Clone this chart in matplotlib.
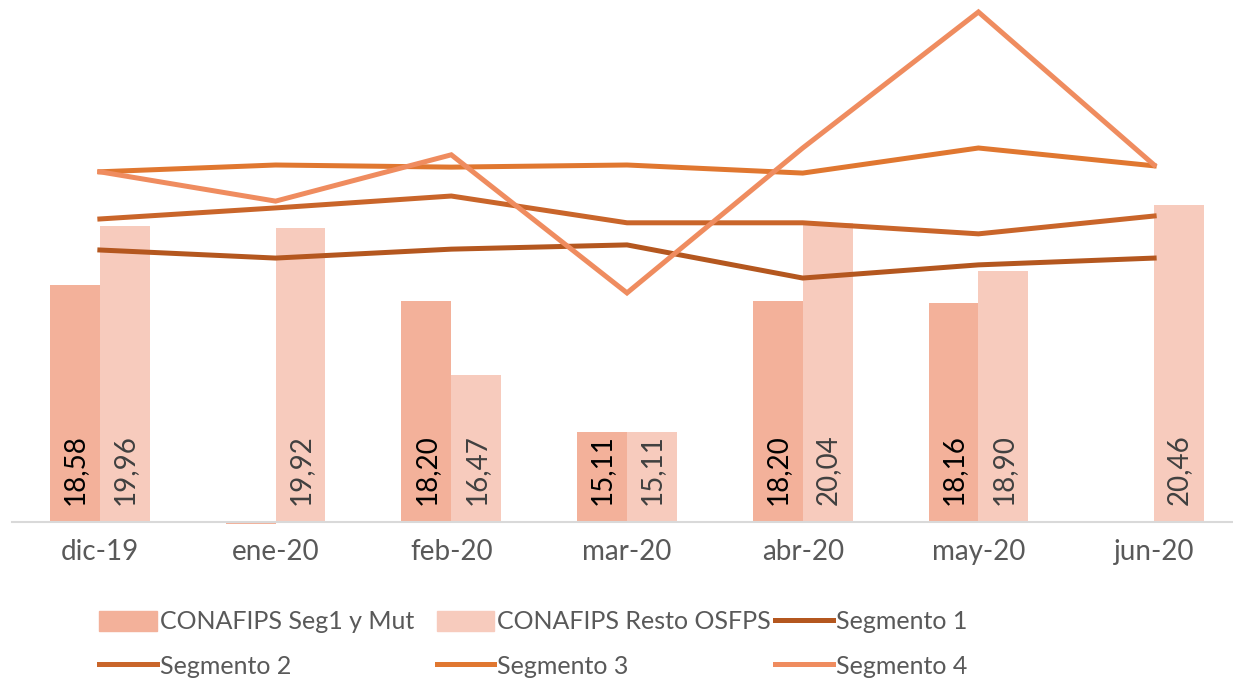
import numpy as np
import matplotlib.pyplot as plt
from matplotlib.lines import Line2D
from matplotlib.patches import Patch

# data
months = ["dic-19", "ene-20", "feb-20", "mar-20", "abr-20", "may-20", "jun-20"]
seg1_mut = [18.58, 12.96, 18.20, 15.11, 18.20, 18.16, np.nan]
resto = [19.96, 19.92, 16.47, 15.11, 20.04, 18.90, 20.46]
segmento1 = [19.40, 19.21, 19.42, 19.52, 18.74, 19.05, 19.21]
segmento2 = [20.13, 20.39, 20.67, 20.04, 20.04, 19.78, 20.20]
segmento3 = [21.24, 21.40, 21.35, 21.40, 21.21, 21.80, 21.38]
segmento4 = [21.24, 20.55, 21.64, 18.39, 21.80, 25.00, 21.40]

c_bar1 = "#F3B19A"
c_bar2 = "#F7CBBD"
c_lines = ["#B4571F", "#C9652A", "#E07730", "#EF8C5F"]

plt.rcParams["font.family"] = ["Lato", "DejaVu Sans"]
FS = 20
base = 13.0

fig = plt.figure(figsize=(12.33, 6.85), dpi=100)
ax = fig.add_axes([12 / 1233, 1 - 522 / 685, 1230 / 1233, 510 / 685])

x = np.arange(len(months))
w = 0.284
h1 = np.array(seg1_mut) - base
h2 = np.array(resto) - base
ax.bar(x - w / 2, h1, w, bottom=base, color=c_bar1, clip_on=False, zorder=2)
ax.bar(x + w / 2, h2, w, bottom=base, color=c_bar2, zorder=2)

for xi, v in zip(x, seg1_mut):
    if np.isnan(v) or v < base:
        continue
    ax.annotate(f"{v:.2f}".replace(".", ","), (xi - w / 2, base), xytext=(0, 12),
                textcoords="offset points", rotation=90, ha="center", va="bottom",
                fontsize=FS, color="black", zorder=5)
for xi, v in zip(x, resto):
    ax.annotate(f"{v:.2f}".replace(".", ","), (xi + w / 2, base), xytext=(0, 12),
                textcoords="offset points", rotation=90, ha="center", va="bottom",
                fontsize=FS, color="#404040", zorder=5)

for ys, c in zip([segmento1, segmento2, segmento3, segmento4], c_lines):
    ax.plot(x, ys, color=c, lw=3.6, solid_joinstyle="miter", zorder=3, clip_on=False)

ax.set_xlim(-0.5, len(months) - 0.5)
ax.set_ylim(base, 25)
ax.set_xticks(x)
ax.set_xticklabels(months, fontsize=FS, color="#595959")
ax.tick_params(axis="x", length=0, pad=12)
ax.set_yticks([])
for s in ["top", "right", "left"]:
    ax.spines[s].set_visible(False)
ax.spines["bottom"].set_color("#D9D9D9")
ax.spines["bottom"].set_linewidth(1.5)
ax.spines["bottom"].set_zorder(4)

handles = [
    Patch(color=c_bar1, label="CONAFIPS Seg1 y Mut"),
    Patch(color=c_bar2, label="CONAFIPS Resto OSFPS"),
    Line2D([], [], color=c_lines[0], lw=3.6, label="Segmento 1"),
    Line2D([], [], color=c_lines[1], lw=3.6, label="Segmento 2"),
    Line2D([], [], color=c_lines[2], lw=3.6, label="Segmento 3"),
    Line2D([], [], color=c_lines[3], lw=3.6, label="Segmento 4"),
]
# one legend per column so the columns sit where the reference has them
col_x = [99, 437, 775]
for i, cx in enumerate(col_x):
    leg = fig.legend(handles=[handles[i], handles[i + 3]], loc="center left",
                     bbox_to_anchor=(cx / 1233, 1 - 644 / 685), frameon=False,
                     borderaxespad=0, borderpad=0,
                     fontsize=18, handlelength=2.3, handleheight=0.85,
                     handletextpad=0.12, labelspacing=0.85)
    for t in leg.get_texts():
        t.set_color("#595959")

fig.savefig("out.png", dpi=100)
